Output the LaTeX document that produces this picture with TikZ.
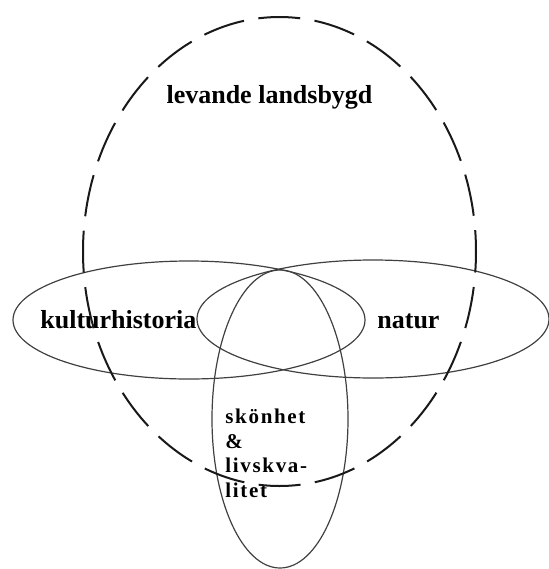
\documentclass[tikz,border=0pt]{standalone}
\usepackage{fontspec}
\setmainfont{Liberation Serif}

\begin{document}
\begin{tikzpicture}[x=0.5pt, y=-0.5pt,
  ring/.style={draw=black!75, line width=0.6pt},
  dashring/.style={draw=black!90, line width=1pt,
    dash pattern=on 21pt off 7.26pt, dash phase=10.5pt},
  lbl/.style={inner sep=0pt, font=\fontsize{13pt}{15pt}\selectfont\bfseries},
  smalllbl/.style={inner sep=0pt, align=left,
    font=\fontsize{10.5pt}{12.25pt}\selectfont\bfseries\addfontfeature{LetterSpace=8}}]
  \useasboundingbox (0,0) rectangle (548,569);
  % the three solid ellipses
  \draw[ring] (189,320) ellipse [x radius=176, y radius=59];
  \draw[ring] (373,319) ellipse [x radius=176, y radius=59];
  \draw[ring] (280,419) ellipse [x radius=68, y radius=149];
  % labels
  \node[lbl, anchor=base] (land) at (269.5,103) {levande landsbygd};
  \node[lbl, anchor=base west] (kultur) at (40,328) {kulturhistoria};
  \node[lbl, anchor=base west] (natur) at (377,328) {natur};
  \node[smalllbl, anchor=north west] (livs) at (225,409) {skönhet\\\&\\livskva-\\litet};
  % outer dashed ellipse, on top of the text
  \draw[dashring] (279.5,251.5) ellipse [x radius=196.5, y radius=234.5];
\end{tikzpicture}
\end{document}
